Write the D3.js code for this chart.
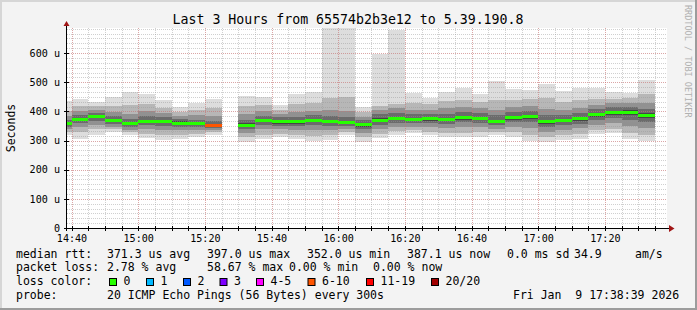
<!DOCTYPE html>
<html>
<head>
<meta charset="utf-8">
<script src="https://cdn.jsdelivr.net/npm/d3@7"></script>
<style>
  body { margin: 0; background: #f3f3f3; }
  text { font-family: "DejaVu Sans Mono", monospace; }
</style>
</head>
<body>
<svg id="chart" width="697" height="310"></svg>
<script>
// 5 minute steps, start of each step (15:25 has no data)
const starts = ["14:35","14:40","14:45","14:50","14:55","15:00","15:05","15:10","15:15","15:20","15:25","15:30",
                "15:35","15:40","15:45","15:50","15:55","16:00","16:05","16:10","16:15","16:20","16:25","16:30",
                "16:35","16:40","16:45","16:50","16:55","17:00","17:05","17:10","17:15","17:20","17:25","17:30"];
// median rtt in microseconds
const median = [359,372,382,368,357,365,365,360,357,352,null,353,368,364,364,368,365,361,354,370,375,372,374,372,
                378,375,365,378,382,365,368,375,388,396,397,387];
// lost pings out of 20
const lost = [0,0,0,0,0,0,0,0,0,7,null,0,0,0,0,0,0,0,0,0,0,0,0,0,0,0,0,0,0,0,0,0,0,0,0,0];
// sorted pings (smoke), pairs from the outside in
const ping1  = [320,305,319,330,319,308,302,304,311,319,null,296,304,311,305,298,302,319,296,308,319,325,319,313,
                311,313,319,313,298,294,302,305,321,325,304,299];
const ping20 = [435,442,431,448,468,459,439,416,428,442,null,453,448,422,460,466,760,760,416,596,679,464,447,468,
                480,460,505,476,473,494,471,479,479,466,462,508];
const ping3  = [329,330,338,340,328,322,318,318,322,328,null,312,320,324,320,315,318,330,312,322,332,335,330,326,
                326,328,330,328,318,312,318,322,335,340,325,318];
const ping18 = [402,420,418,420,422,425,412,398,405,412,null,418,422,405,425,430,445,450,398,420,425,430,425,435,
                440,432,440,440,442,445,432,438,442,442,445,460];
const ping5  = [340,348,355,348,337,338,335,335,335,336,null,326,338,338,336,335,335,340,326,338,345,347,345,342,
                345,345,340,346,342,330,336,342,352,360,350,342];
const ping16 = [385,402,406,398,392,400,395,385,386,385,null,390,400,392,398,402,405,400,382,405,410,405,405,410,
                415,410,405,415,420,408,405,412,422,428,430,428];
const ping7  = [348,359,368,357,346,352,350,348,346,343,null,340,353,350,350,352,350,350,340,355,360,360,360,357,
                362,360,352,363,363,348,352,358,370,378,372,365];
const ping14 = [372,388,396,384,374,384,381,374,372,368,null,372,385,380,382,386,385,380,370,390,395,390,392,392,
                398,394,386,398,402,386,388,396,408,415,416,408];
const ping9  = [354,367,377,363,352,360,359,355,352,348,null,348,362,358,358,362,359,356,348,364,369,367,368,366,
                372,369,359,372,375,358,362,368,381,389,387,378];
const ping12 = [365,378,388,374,364,372,371,366,363,358,null,360,374,370,371,374,372,368,360,377,382,378,381,379,
                385,382,372,385,389,372,375,382,395,403,404,394];

const xTicks = ["14:40","15:00","15:20","15:40","16:00","16:20","16:40","17:00","17:20"];
const yTicks = [0,100,200,300,400,500,600];

const lossLabels = ["0","1","2","3","4-5","6-10","11-19","20/20"];
const lossColors = ["#26ff00","#00b8ff","#0059ff","#7e00ff","#ff00ff","#ff5500","#ff0000","#a10000"];

const svg = d3.select("#chart");
const parse = d3.timeParse("%Y-%m-%d %H:%M:%S");
const day = "2026-01-09 ";
const tEnd = parse(day + "17:38:39");
const tStart = d3.timeHour.offset(tEnd, -3);

const x = d3.scaleTime().domain([tStart, tEnd]).range([67, 667]);
const y = d3.scaleLinear().domain([0, 686]).range([228, 28]);

// background and frame
svg.append("rect").attr("width", 697).attr("height", 310).attr("fill", "#f3f3f3");
svg.append("rect").attr("width", 697).attr("height", 2).attr("fill", "#d6d6d6");
svg.append("rect").attr("width", 2).attr("height", 310).attr("fill", "#d6d6d6");
svg.append("rect").attr("y", 308).attr("width", 697).attr("height", 2).attr("fill", "#9c9c9c");
svg.append("rect").attr("x", 695).attr("width", 2).attr("height", 310).attr("fill", "#9c9c9c");

svg.append("rect").attr("x", 67).attr("y", 28).attr("width", 600).attr("height", 200).attr("fill", "#ffffff");

svg.append("clipPath").attr("id", "plot")
    .append("rect").attr("x", 67).attr("y", 28).attr("width", 600).attr("height", 200);

const lossColor = (n) => {
    if (n === 0) return lossColors[0];
    if (n === 1) return lossColors[1];
    if (n === 2) return lossColors[2];
    if (n === 3) return lossColors[3];
    if (n <= 5) return lossColors[4];
    if (n <= 10) return lossColors[5];
    if (n <= 19) return lossColors[6];
    return lossColors[7];
};

const steps = starts.map((s, i) => {
    const t0 = parse(day + s + ":00");
    return { t0: t0, t1: d3.timeMinute.offset(t0, 5), i: i };
}).filter((d) => median[d.i] !== null);

const layers = [
    [ping1, ping20, "#dddddd"],
    [ping3, ping18, "#b7b7b7"],
    [ping5, ping16, "#919191"],
    [ping7, ping14, "#6b6b6b"],
    [ping9, ping12, "#454545"]
];

const smoke = svg.append("g").attr("clip-path", "url(#plot)").attr("shape-rendering", "crispEdges");
layers.forEach((layer) => {
    smoke.append("g").selectAll("rect")
        .data(steps)
        .enter()
        .append("rect")
        .attr("x", (d) => x(d.t0))
        .attr("width", (d) => x(d.t1) - x(d.t0))
        .attr("y", (d) => y(layer[1][d.i]))
        .attr("height", (d) => y(layer[0][d.i]) - y(layer[1][d.i]))
        .attr("fill", layer[2]);
});

// grid
const grid = svg.append("g").attr("stroke-dasharray", "1,1").attr("stroke-width", 1);
const minorX = x.ticks(d3.timeMinute.every(5));
grid.selectAll(".vmin").data(minorX).enter().append("line")
    .attr("x1", (d) => Math.round(x(d)) + 0.5).attr("x2", (d) => Math.round(x(d)) + 0.5)
    .attr("y1", 28).attr("y2", 228)
    .attr("stroke", "rgba(150,150,150,0.45)");
const minorY = d3.range(0, 686, 100 / 6);
grid.selectAll(".hmin").data(minorY).enter().append("line")
    .attr("x1", 67).attr("x2", 667)
    .attr("y1", (d) => Math.round(y(d)) + 0.5).attr("y2", (d) => Math.round(y(d)) + 0.5)
    .attr("stroke", "rgba(150,150,150,0.45)");
const majorX = xTicks.map((s) => parse(day + s + ":00"));
grid.selectAll(".vmaj").data(majorX).enter().append("line")
    .attr("x1", (d) => Math.round(x(d)) + 0.5).attr("x2", (d) => Math.round(x(d)) + 0.5)
    .attr("y1", 28).attr("y2", 228)
    .attr("stroke", "rgba(240,90,90,0.35)");
grid.selectAll(".hmaj").data(yTicks.slice(1)).enter().append("line")
    .attr("x1", 67).attr("x2", 667)
    .attr("y1", (d) => Math.round(y(d)) + 0.5).attr("y2", (d) => Math.round(y(d)) + 0.5)
    .attr("stroke", "rgba(240,90,90,0.35)");

// median lines coloured by loss
svg.append("g").attr("clip-path", "url(#plot)").attr("shape-rendering", "crispEdges")
    .selectAll("rect")
    .data(steps)
    .enter()
    .append("rect")
    .attr("x", (d) => x(d.t0))
    .attr("width", (d) => x(d.t1) - x(d.t0))
    .attr("y", (d) => y(median[d.i]) - 1.5)
    .attr("height", 3)
    .attr("fill", (d) => lossColor(lost[d.i]));

// axes
const xAxis = svg.append("g").attr("transform", "translate(0,228)")
    .call(d3.axisBottom(x).tickValues(majorX).tickFormat(d3.timeFormat("%H:%M")).tickSize(0).tickPadding(7));
const yAxis = svg.append("g").attr("transform", "translate(67,0)")
    .call(d3.axisLeft(y).tickValues(yTicks).tickFormat((d) => d === 0 ? "0" : d + " u").tickSize(0).tickPadding(7));
[xAxis, yAxis].forEach((a) => {
    a.select(".domain").remove();
    a.selectAll("text").attr("font-family", "DejaVu Sans Mono").attr("font-size", "10.1px").attr("fill", "#000");
});

svg.append("line").attr("x1", 64).attr("x2", 669).attr("y1", 228.5).attr("y2", 228.5).attr("stroke", "#000");
svg.append("line").attr("x1", 66.5).attr("x2", 66.5).attr("y1", 25).attr("y2", 231).attr("stroke", "#000");
svg.append("path").attr("d", "M669,225L674.5,228.5L669,232Z").attr("fill", "#a01515");
svg.append("path").attr("d", "M63.5,26L66.5,21L69.5,26Z").attr("fill", "#a01515");

// tick marks on the axes
svg.selectAll(".xt").data(minorX).enter().append("line")
    .attr("x1", (d) => Math.round(x(d)) + 0.5).attr("x2", (d) => Math.round(x(d)) + 0.5)
    .attr("y1", 226).attr("y2", 231).attr("stroke", "#000");
svg.selectAll(".yt").data(yTicks).enter().append("line")
    .attr("x1", 64).attr("x2", 69)
    .attr("y1", (d) => Math.round(y(d)) + 0.5).attr("y2", (d) => Math.round(y(d)) + 0.5)
    .attr("stroke", "#000");

// titles
svg.append("text").attr("x", 348).attr("y", 24).attr("text-anchor", "middle")
    .attr("font-size", "13.25px").attr("fill", "#000")
    .text("Last 3 Hours from 65574b2b3e12 to 5.39.190.8");
svg.append("text").attr("transform", "translate(15,128) rotate(-90)").attr("text-anchor", "middle")
    .attr("font-size", "11.5px").attr("fill", "#000").text("Seconds");
svg.append("text").attr("transform", "translate(685,5) rotate(90)")
    .attr("font-size", "8.5px").attr("fill", "#b0b0b0").text("RRDTOOL / TOBI OETIKER");

// legend
const legendRows = [
    [257.5, [[16, "median rtt:"], [107, "371.3 us avg"], [207, "397.0 us max"], [307, "352.0 us min"],
             [407, "387.1 us now"], [507, "0.0 ms sd"], [574, "34.9"], [635, "am/s"]]],
    [271.3, [[16, "packet loss:"], [107, "2.78 % avg"], [207, "58.67 % max"], [289, "0.00 % min"],
             [373, "0.00 % now"]]],
    [285, [[16, "loss color:"]]],
    [298.7, [[16, "probe:"], [107, "20 ICMP Echo Pings (56 Bytes) every 300s"], [513, "Fri Jan  9 17:38:39 2026"]]]
];
legendRows.forEach((row) => {
    row[1].forEach((p) => {
        svg.append("text").attr("x", p[0]).attr("y", row[0]).attr("font-size", "11.5px")
            .attr("fill", "#000").attr("xml:space", "preserve").style("white-space", "pre").text(p[1]);
    });
});
const swatchX = [109, 146, 183, 219.5, 256, 307.5, 366, 431];
lossLabels.forEach((lab, i) => {
    svg.append("rect").attr("x", swatchX[i] + 0.5).attr("y", 278.5).attr("width", 7).attr("height", 7)
        .attr("fill", lossColors[i]).attr("stroke", "#000").attr("stroke-width", 1);
    svg.append("text").attr("x", swatchX[i] + 14.5).attr("y", 285).attr("font-size", "11.5px")
        .attr("fill", "#000").text(lab);
});
</script>
</body>
</html>
